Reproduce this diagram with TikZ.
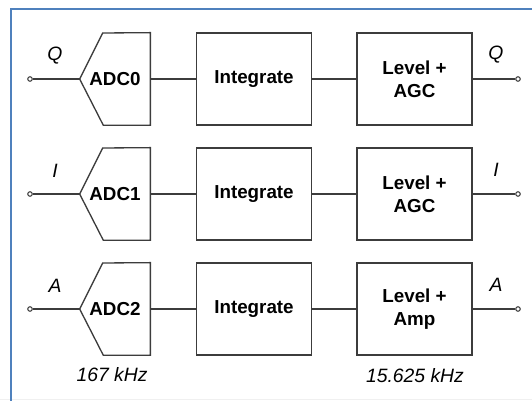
\documentclass[tikz,border=0pt]{standalone}
\usepackage{fontspec}
\setmainfont{Liberation Sans}
\usetikzlibrary{positioning}
\definecolor{frameblue}{RGB}{79, 129, 189}
\definecolor{wireg}{RGB}{60, 60, 60}
\tikzset{block/.style = {draw=wireg, line width=0.75pt, minimum width=2.3cm,
                         minimum height=1.84cm, inner sep=0, align=center,
                         font=\fontsize{10.7}{13}\selectfont\bfseries}}
\tikzset{adcbox/.style = {minimum width=1.4cm, minimum height=1.84cm, inner sep=0,
                          font=\fontsize{10.7}{13}\selectfont\bfseries}}
\tikzset{wire/.style = {draw=wireg, line width=0.75pt}}
\tikzset{port/.style = {draw=wireg, line width=0.6pt, circle, fill=white,
                        inner sep=0, minimum size=0.09cm}}
\tikzset{sig/.style = {font=\fontsize{11}{13}\selectfont\itshape, inner sep=0}}

\begin{document}
\begin{tikzpicture}[x=0.02cm, y=-0.02cm]
    \useasboundingbox (0, 0) rectangle (532, 401);
    \draw [gray!12, line width=0.6pt] (0, 399.5) -- (532, 399.5);
    \draw [frameblue, line width=1.1pt] (11, 401) -- (11, 9) -- (532, 9);

    % ADC stages
    \node [adcbox] (adc0) at (115, 79) {ADC0};
    \node [adcbox] (adc1) at (115, 194) {ADC1};
    \node [adcbox] (adc2) at (115, 309) {ADC2};
    \foreach \i in {0, 1, 2} {
      \draw [wire] (adc\i.west) -- ++(23, -46) -- (adc\i.north east)
        -- (adc\i.south east) -- ++(-47, 0) -- cycle;
    }

    % integrators and level blocks
    \node [block] (int0) at (254, 79) {Integrate};
    \node [block] (int1) at (254, 194) {Integrate};
    \node [block] (int2) at (254, 309) {Integrate};
    \node [block] (lvl0) at (414.5, 79) {Level +\\AGC};
    \node [block] (lvl1) at (414.5, 194) {Level +\\AGC};
    \node [block] (lvl2) at (414.5, 309) {Level +\\Amp};

    % ports and signal names
    \node [port] (in0) at (30, 79) {};
    \node [port] (in1) at (30, 194) {};
    \node [port] (in2) at (30, 309) {};
    \node [port] (out0) at (518, 79) {};
    \node [port] (out1) at (518, 194) {};
    \node [port] (out2) at (518, 309) {};
    \node [sig] (lin0) at (55, 56) {Q};
    \node [sig] (lin1) at (55, 171) {I};
    \node [sig] (lin2) at (55, 286) {A};
    \node [sig] (lout0) at (496, 55) {Q};
    \node [sig] (lout1) at (496, 170) {I};
    \node [sig] (lout2) at (496, 285) {A};

    \foreach \i in {0, 1, 2} {
      \draw [wire] (in\i) -- (adc\i);
      \draw [wire] (adc\i) -- (int\i);
      \draw [wire] (int\i) -- (lvl\i);
      \draw [wire] (lvl\i) -- (out\i);
    }

    \node [sig] (fadc) at (112, 375) {167 kHz};
    \node [sig] (flvl) at (415, 376) {15.625 kHz};
  \end{tikzpicture}
\end{document}
